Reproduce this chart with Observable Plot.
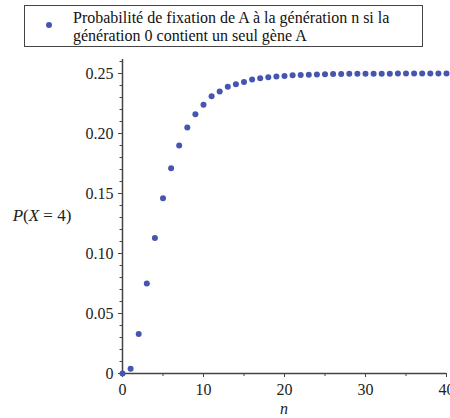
<!DOCTYPE html>
<html><head><meta charset="utf-8">
<script src="https://cdn.jsdelivr.net/npm/d3@7"></script>
<script src="https://cdn.jsdelivr.net/npm/@observablehq/plot@0.6"></script>
<style>
body{margin:0;background:#fff;font-family:"Liberation Serif","Times New Roman",serif;}
#wrap{position:relative;width:450px;height:418px;overflow:hidden;background:#fff;}
#legendArea{position:relative;height:50px;}
#legend{position:absolute;left:24px;top:5px;width:399px;height:42px;box-sizing:border-box;border:1.5px solid #444;}
#legend .dot{position:absolute;left:21px;top:16px;width:6px;height:6px;border-radius:50%;background:#4655b0;}
#legend .txt{position:absolute;left:48px;top:2.5px;font-size:16px;line-height:18px;color:#111;white-space:nowrap;}
</style></head>
<body>
<div id="wrap">
  <div id="legendArea"><div id="legend"><div class="dot"></div><div class="txt" id="legendText"></div></div></div>
  <div id="chart"></div>
</div>
<script>
const legendLines = ["Probabilité de fixation de A à la génération n si la", "génération 0 contient un seul gène A"];
const generations = [0,1,2,3,4,5,6,7,8,9,10,11,12,13,14,15,16,17,18,19,20,21,22,23,24,25,26,27,28,29,30,31,32,33,34,35,36,37,38,39,40];
const probabilities = [0,0.004,0.033,0.075,0.113,0.146,0.171,0.190,0.205,0.216,0.224,0.231,0.235,0.239,0.241,0.243,0.245,0.246,0.247,0.2475,0.248,0.2485,0.2488,0.249,0.2493,0.2495,0.2496,0.2497,0.2498,0.2498,0.2499,0.2499,0.2499,0.2499,0.25,0.25,0.25,0.25,0.25,0.25,0.25];
const xTicks = [0,10,20,30,40];
const xMinor = [5,15,25,35];
const yTicks = [0,0.05,0.10,0.15,0.20,0.25];
const yMinor = [0.01,0.02,0.03,0.04,0.06,0.07,0.08,0.09,0.11,0.12,0.13,0.14,0.16,0.17,0.18,0.19,0.21,0.22,0.23,0.24,0.26];

document.getElementById("legendText").innerHTML = legendLines.join("<br>");

const data = generations.map((n,i)=>({n, p: probabilities[i]}));
const dotColor = "#4655b0";
const axisColor = "#444";

const plot = Plot.plot({
  width: 450, height: 368,
  marginLeft: 122, marginRight: 4, marginTop: 9, marginBottom: 45,
  style: {fontFamily: '"Liberation Serif","Times New Roman",serif', fontSize: "16px", background: "transparent", color: "#222"},
  x: {domain: [0, 40]},
  y: {domain: [0, 0.2617]},
  marks: [
    Plot.axisX({ticks: xTicks, tickSize: 4, tickPadding: 6, label: null, stroke: axisColor, fontSize: 16, tickFormat: d => String(d)}),
    Plot.axisX({ticks: xMinor, tickSize: 3, tickFormat: () => "", label: null, stroke: axisColor}),
    Plot.axisY({ticks: yTicks, tickSize: 4, tickPadding: 5, label: null, stroke: axisColor, fontSize: 16, tickFormat: d => d === 0 ? "0" : d3.format(".2f")(d)}),
    Plot.axisY({ticks: yMinor, tickSize: 2.5, tickFormat: () => "", label: null, stroke: axisColor}),
    Plot.ruleX([0], {stroke: axisColor, strokeWidth: 1.5}),
    Plot.ruleY([0], {stroke: axisColor, strokeWidth: 1.5}),
    Plot.dot(data, {x: "n", y: "p", r: 3, fill: dotColor, stroke: "none"})
  ]
});
document.getElementById("chart").appendChild(plot);

const svg = d3.select(plot);
const yl = svg.append("text")
  .attr("x", 42).attr("y", 171)
  .attr("text-anchor", "middle")
  .attr("font-size", 17)
  .attr("fill", "#222");
yl.append("tspan").attr("font-style", "italic").text("P");
yl.append("tspan").text("(");
yl.append("tspan").attr("font-style", "italic").text("X");
yl.append("tspan").text(" = 4)");
svg.append("text")
  .attr("x", 284).attr("y", 364)
  .attr("text-anchor", "middle")
  .attr("font-size", 16)
  .attr("font-style", "italic")
  .attr("fill", "#222")
  .text("n");
</script>
</body></html>
